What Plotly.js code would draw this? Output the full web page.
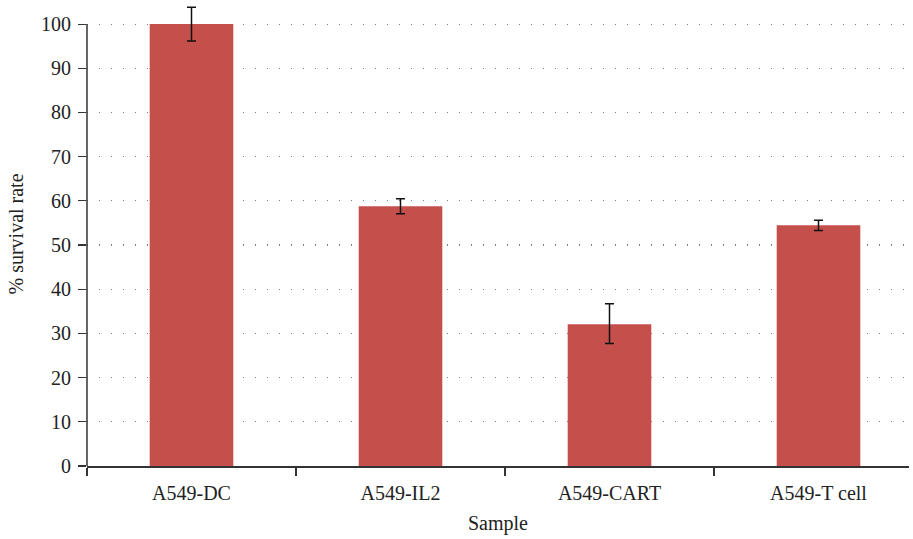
<!DOCTYPE html>
<html>
<head>
<meta charset="utf-8">
<script src="https://cdn.plot.ly/plotly-3.0.1.min.js"></script>
<style>html,body{margin:0;padding:0;background:#fff;}#chart{width:913px;height:539px;}</style>
</head>
<body>
<div id="chart"></div>
<script>
const categories = ["A549-DC", "A549-IL2", "A549-CART", "A549-T cell"];
const survival = [100, 58.8, 32.1, 54.5];
const errorPlus = [3.8, 1.7, 4.6, 1.1];
const errorMinus = [3.8, 1.7, 4.4, 1.2];
const yTicks = [0, 10, 20, 30, 40, 50, 60, 70, 80, 90, 100];

const font = "Liberation Serif, Times New Roman, serif";
const trace = {
  type: "bar",
  x: categories,
  y: survival,
  width: 0.4,
  marker: {color: "#C44F4B"},
  error_y: {type: "data", symmetric: false, array: errorPlus, arrayminus: errorMinus,
            color: "#111", thickness: 1.5, width: 4.5}
};
const layout = {
  width: 913, height: 539,
  margin: {l: 87, r: 4, t: 2, b: 73},
  paper_bgcolor: "#fff", plot_bgcolor: "#fff",
  showlegend: false,
  font: {family: font, size: 20, color: "#222"},
  xaxis: {
    type: "category",
    range: [-0.5, 3.433],
    tickson: "boundaries",
    ticks: "outside", ticklen: 8, tickwidth: 1.2, tickcolor: "#333",
    showline: true, linecolor: "#333", linewidth: 1.5,
    showgrid: false, zeroline: false,
    ticklabelstandoff: 8,
    tickfont: {family: font, size: 20, color: "#222"},
    title: {text: "Sample", font: {family: font, size: 20, color: "#222"}, standoff: 13}
  },
  yaxis: {
    range: [0, 105],
    tickvals: yTicks,
    ticks: "outside", ticklen: 8, tickwidth: 1.2, tickcolor: "#333",
    showline: false,
    showgrid: true, gridcolor: "#808080", gridwidth: 1.2, griddash: "1px,11px",
    zeroline: false,
    ticklabelstandoff: 3,
    tickfont: {family: font, size: 20, color: "#222"},
    title: {text: "% survival rate", font: {family: font, size: 20, color: "#222"}, standoff: 12}
  },
  shapes: [{type: "line", xref: "paper", yref: "y", x0: 0, x1: 0, y0: 0, y1: yTicks[yTicks.length - 1],
            line: {color: "#333", width: 1.5}}]
};
Plotly.newPlot("chart", [trace], layout, {displayModeBar: false, staticPlot: true});
</script>
</body>
</html>
